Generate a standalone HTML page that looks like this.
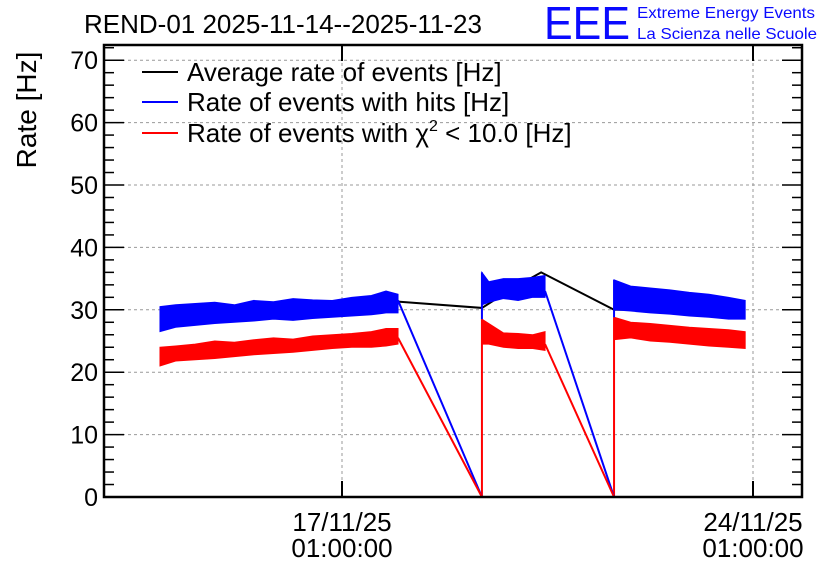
<!DOCTYPE html>
<html><head><meta charset="utf-8"><style>
body{margin:0;background:#fff}
svg{display:block;font-family:"Liberation Sans",sans-serif}
</style></head><body>
<svg id="c" width="836" height="572" viewBox="0 0 836 572">
<rect width="836" height="572" fill="#fff"/>
<text x="84" y="33" font-size="26">REND-01 2025-11-14--2025-11-23</text>
<text x="544" y="39" font-size="46" fill="#0a0aff" textLength="86" lengthAdjust="spacingAndGlyphs">EEE</text>
<text x="637" y="18" font-size="16" fill="#0a0aff" textLength="178" lengthAdjust="spacingAndGlyphs">Extreme Energy Events</text>
<text x="637" y="39" font-size="16" fill="#0a0aff" textLength="180" lengthAdjust="spacingAndGlyphs">La Scienza nelle Scuole</text>
<text transform="translate(36,110) rotate(-90)" text-anchor="middle" font-size="28">Rate [Hz]</text>
<g id="grid"></g><g id="marks"></g><g id="axes"></g>
<g>
<line x1="142" y1="72" x2="178" y2="72" stroke="#000" stroke-width="2"/>
<text x="187" y="81" font-size="26">Average rate of events [Hz]</text>
<line x1="142" y1="102" x2="178" y2="102" stroke="#00f" stroke-width="2"/>
<text x="187" y="111" font-size="26">Rate of events with hits [Hz]</text>
<line x1="142" y1="133" x2="178" y2="133" stroke="#f00" stroke-width="2"/>
<text x="187" y="142" font-size="26">Rate of events with χ<tspan font-size="16" dy="-11">2</tspan><tspan dy="11"> &lt; 10.0 [Hz]</tspan></text>
</g>
</svg>
<script>
// hours relative to 17/11/25 01:00:00
const xTickHours=[0,168];
const xTickLines1=["17/11/25","24/11/25"];
const xTickLines2=["01:00:00","01:00:00"];
const yTicks=[0,10,20,30,40,50,60,70];
// noisy segments: time, upper/lower envelopes
const segHours=[[-74.4,-68,-60,-52,-44,-36,-28,-20,-12,-4,4,12,18,22.9],[57.2,60,66,72,78,83],[111.2,118,126,134,142,150,158,164.8]];
const blueUpper=[[30.5,30.8,31,31.2,30.8,31.5,31.3,31.8,31.6,31.5,32,32.3,33,32.5],[36,34.5,35,35,35.2,35.5],[34.8,33.8,33.5,33.2,32.8,32.5,32,31.5]];
const blueLower=[[26.5,27.2,27.5,27.8,28,28.2,28.5,28.3,28.6,28.8,29,29.2,29.5,29.5],[30.8,31.2,31.8,31.5,32,32],[30,29.8,29.5,29.3,29,28.8,28.5,28.5]];
const redUpper=[[24,24.2,24.5,25,24.8,25.2,25.5,25.3,25.8,26,26.2,26.5,27,27],[28.5,27.8,26.3,26.2,26,26.5],[28.8,28,27.8,27.5,27.2,27,26.8,26.5]];
const redLower=[[21,21.8,22,22.2,22.5,22.8,23,23.2,23.5,23.8,24,24,24.2,24.5],[24.5,24.5,24,23.8,23.8,23.5],[25.2,25.5,25,24.8,24.5,24.2,24,23.8]];
// connection lines between runs
const blueDropHours=[22.9,57.2,83,111.2];
const blueDropValues=[31.5,0,33,0];
const redDropHours=[22.9,57.2,83,111.2];
const redDropValues=[25.5,0,24.5,0];
const avgHours=[-74.4,-25,22.9,57.2,70,81.4,111.2,164.8];
const avgValues=[28.5,29.5,31.3,30.3,33.5,36,30,30];
const x0=342,pxH=411/168,y0=497,pxV=6.24;
const X=h=>x0+h*pxH, Y=v=>y0-v*pxV;
const NS="http://www.w3.org/2000/svg";
function mk(p,t,a){const e=document.createElementNS(NS,t);for(const k in a)e.setAttribute(k,a[k]);p.appendChild(e);return e;}
const grid=document.getElementById('grid'),marks=document.getElementById('marks'),axes=document.getElementById('axes');
const L=104,R=802,T=45;
yTicks.forEach(v=>{if(v>0){const g=mk(grid,'line',{x1:L,x2:R,y1:Y(v),y2:Y(v),stroke:'#999','stroke-dasharray':'3,3'});

}
const t=mk(axes,'text',{x:98,y:Y(v)+9,'text-anchor':'end','font-size':25});t.textContent=v;


});
for(let v=0;v<=72;v+=2){const len=v%10===0?20:10;
mk(axes,'line',{x1:L,x2:L+len,y1:Y(v),y2:Y(v),stroke:'#000','stroke-width':1.5});
mk(axes,'line',{x1:R,x2:R-len,y1:Y(v),y2:Y(v),stroke:'#000','stroke-width':1.5});}
xTickHours.forEach((h,i)=>{const x=X(h);
const g=mk(grid,'line',{x1:x,x2:x,y1:T,y2:y0,stroke:'#999','stroke-dasharray':'3,3'});


mk(axes,'line',{x1:x,x2:x,y1:y0,y2:y0-16,stroke:'#000','stroke-width':2});
mk(axes,'line',{x1:x,x2:x,y1:T,y2:T+16,stroke:'#000','stroke-width':2});
const t1=mk(axes,'text',{x:x,y:531,'text-anchor':'middle','font-size':26});t1.textContent=xTickLines1[i];


const t2=mk(axes,'text',{x:x,y:557,'text-anchor':'middle','font-size':26});t2.textContent=xTickLines2[i];


});
const fr=mk(axes,'rect',{x:L,y:T,width:R-L,height:y0-T,fill:'none',stroke:'#000','stroke-width':2.5});


function pl(hs,vs){return hs.map((h,i)=>X(h)+','+Y(vs[i])).join(' ');}
const av=mk(marks,'polyline',{points:pl(avgHours,avgValues),fill:'none',stroke:'#000','stroke-width':2});


function band(hs,up,lo,col,name){
 const pts=hs.map((h,i)=>X(h)+','+Y(up[i])).concat(hs.slice().reverse().map((h,i)=>X(h)+','+Y(lo[hs.length-1-i])));
 const p=mk(marks,'polygon',{points:pts.join(' '),fill:col,stroke:col,'stroke-width':1});
 
 }
segHours.forEach((hs,s)=>{
 band(hs,redUpper[s],redLower[s],'#f00','chi2-rate-band');
 band(hs,blueUpper[s],blueLower[s],'#00f','hits-rate-band');
 if(s>0){const h=hs[0];
  const r=mk(marks,'line',{x1:X(h),x2:X(h),y1:Y(0),y2:Y(redUpper[s][0]),stroke:'#f00','stroke-width':2});
  
  
  const b=mk(marks,'line',{x1:X(h),x2:X(h),y1:Y(redUpper[s][0]),y2:Y(blueUpper[s][0]),stroke:'#00f','stroke-width':2});
  
  }
});
for(let k=0;k<blueDropHours.length;k+=2){
 const b=mk(marks,'line',{x1:X(blueDropHours[k]),y1:Y(blueDropValues[k]),x2:X(blueDropHours[k+1]),y2:Y(blueDropValues[k+1]),stroke:'#00f','stroke-width':2});
 
 
 const r=mk(marks,'line',{x1:X(redDropHours[k]),y1:Y(redDropValues[k]),x2:X(redDropHours[k+1]),y2:Y(redDropValues[k+1]),stroke:'#f00','stroke-width':2});
 
 
}
</script>
</body></html>
